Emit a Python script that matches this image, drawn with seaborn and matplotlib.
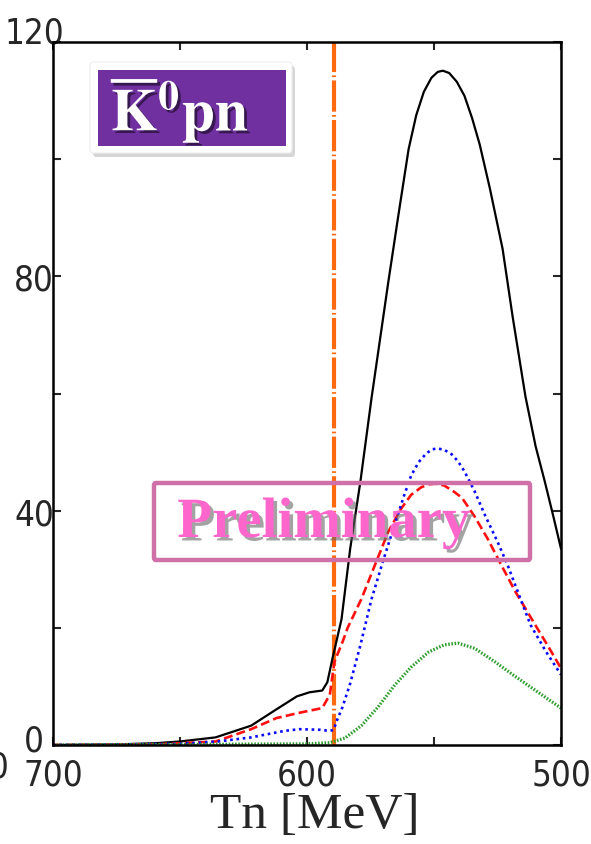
import numpy as np
import pandas as pd
import matplotlib
matplotlib.use("Agg")
import matplotlib.pyplot as plt
import matplotlib.patheffects as pe
from matplotlib.patches import FancyBboxPatch, Rectangle
from matplotlib.transforms import ScaledTranslation
from matplotlib.font_manager import FontProperties
import seaborn as sns

# ---------------- data ----------------
black_x = [700, 675, 660, 650, 636, 622, 612, 604, 599, 594, 592, 590, 586.4, 583, 579,
           574.6, 571, 568, 564, 560, 557, 554, 551, 548.5, 546.5, 544, 541, 538, 535,
           532, 528, 523, 519, 514, 510, 506.4, 503, 500]
black_y = [0, 0.1, 0.3, 0.6, 1.3, 3.3, 6.1, 8.3, 9.0, 9.3, 10.7, 14.7, 21.5, 33.5, 44.9,
           59.2, 70, 79, 90.5, 101.7, 107.5, 111.5, 113.9, 114.9, 115.1, 114.7, 113.2, 110.8, 107,
           102.5, 95, 84.7, 73, 59.5, 51, 45, 39, 33.5]

red_x = [700, 660, 650, 636, 622, 612, 603, 594, 591, 589.2, 586, 584, 578.6, 573, 568, 563,
         559, 555, 552, 549.5, 546, 542, 539, 534, 529, 523, 518, 510, 505, 500]
red_y = [0, 0.1, 0.3, 0.6, 2.7, 4.6, 5.5, 6.3, 8.6, 14.2, 17.6, 20, 24.9, 31, 36.4, 40.3,
         42.7, 44, 44.5, 44.6, 44.3, 43.2, 42.2, 39, 35.3, 30.3, 26.2, 20.4, 16.8, 13.1]

blue_x = [700, 650, 635, 622, 609, 603, 595, 591, 589.5, 588.4, 586, 583, 579, 574.6, 570,
          565.5, 562, 559, 556, 553, 550.5, 548.4, 546, 543, 540.5, 538, 534, 530, 525,
          521, 516, 512, 506, 500]
blue_y = [0, 0.2, 0.6, 1.3, 2.4, 2.7, 2.6, 2.4, 2.6, 4.0, 6.5, 10.5, 17, 24.9, 31.5,
          37.6, 42.3, 46, 48.3, 49.8, 50.5, 50.6, 50.4, 49.6, 48.4, 46.7, 43.3, 39.3, 34.7,
          30.7, 25, 20.5, 16, 12]

green_x = [700, 600, 591, 585, 578.6, 572, 565.5, 559, 552, 546, 540.6, 534, 526, 519, 513, 500]
green_y = [0, 0.2, 0.4, 1.2, 3.3, 6.5, 10.2, 13.3, 15.9, 17.1, 17.4, 16.5, 14.2, 12, 10.2, 6.3]

threshold = 589.5

x_ticks = [700, 650, 600, 550, 500]
x_labels = ["700", "", "600", "", "500"]
y_ticks = [0, 20, 40, 60, 80, 100, 120]
y_labels = ["0", "", "40", "", "80", "", "120"]

xlabel = "Tn [MeV]"
channel = r"$\overline{\mathbf{K}}^{\mathbf{0}}\mathbf{pn}$"
stamp = "Preliminary"

# ---------------- figure ----------------
sns.set_style("ticks")
plt.rcParams["mathtext.fontset"] = "stix"
narrow = FontProperties(family="DejaVu Sans", stretch="condensed", size=25)

W, H = 591, 845
fig = plt.figure(figsize=(W / 100, H / 100), dpi=100)
ax = fig.add_axes([53 / W, 1 - 746 / H, (561 - 53) / W, (746 - 43) / H])

series = [
    (black_x, black_y, dict(color="black", lw=1.6, ls="-")),
    (red_x, red_y, dict(color="#FF1010", lw=1.9, ls=(0, (3.4, 1.6)))),
    (blue_x, blue_y, dict(color="#0A0AFF", lw=1.9, ls=(0, (1.0, 1.4)))),
    (green_x, green_y, dict(color="#2E9E2E", lw=2.3, ls=(0, (0.5, 0.5)))),
]
for xs, ys, st in series:
    df = pd.DataFrame({"T": xs, "v": ys})
    sns.lineplot(data=df, x="T", y="v", ax=ax, sort=False, estimator=None,
                 color=st["color"], linewidth=st["lw"], linestyle=st["ls"])

ax.axvline(threshold, color="#FF6A10", lw=3.0, ls=(0, (7.5, 0.8, 0.4, 0.8)), zorder=1)

ax.set_xlim(700, 500)
ax.set_ylim(0, 120)
ax.set_xticks(x_ticks)
ax.set_xticklabels(x_labels, fontproperties=narrow)
ax.set_yticks(y_ticks)
ax.set_yticklabels(y_labels, fontproperties=narrow)
ax.set_xlabel(xlabel, fontfamily="Liberation Serif", fontsize=37)
ax.xaxis.set_label_coords((315 - 53) / (561 - 53), -(816 - 746) / (746 - 43), transform=ax.transAxes)
ax.xaxis.label.set_va("center")
ax.set_ylabel("")
for s in ax.spines.values():
    s.set_linewidth(1.8)
    s.set_color("black")
    s.set_visible(True)
ax.tick_params(direction="in", length=6, width=1.5, top=True, right=True)
ax.tick_params(axis="x", pad=9)
ax.tick_params(axis="y", pad=13.5)
for lab in ax.get_yticklabels():
    lab.set_horizontalalignment("center")
# vertical nudges seen in the reference ("120" sits above the top, "0" slightly above the base)
nudge = {"120": 13, "0": 8}
for lab in ax.get_yticklabels():
    dy = nudge.get(lab.get_text(), 0)
    if dy:
        lab.set_transform(lab.get_transform() + ScaledTranslation(0, dy / 100, fig.dpi_scale_trans))

# channel label box (figure pixel coords)
def px(x, y):
    return x / W, 1 - y / H

shadow = FancyBboxPatch(px(93, 158), 202 / W, 91 / H, boxstyle="round,pad=0,rounding_size=0.005",
                        transform=fig.transFigure, fc="#bbbbbb", ec="none", alpha=0.6, zorder=5)
frame = FancyBboxPatch(px(90, 154), 202 / W, 91 / H, boxstyle="round,pad=0,rounding_size=0.005",
                       transform=fig.transFigure, fc="white", ec="#eeeeee", lw=0.8, zorder=6)
inner = Rectangle(px(98, 147), 188 / W, 76 / H, transform=fig.transFigure,
                  fc="#7030A0", ec="none", zorder=7)
for p in (shadow, frame, inner):
    fig.add_artist(p)
fig.text(*px(180, 110), channel, color="white", fontsize=43, ha="center", va="center",
         zorder=8, path_effects=[pe.withSimplePatchShadow(offset=(2, -2), shadow_rgbFace="black", alpha=0.5)])

# preliminary stamp
stamp_box = FancyBboxPatch(px(154, 561), 376 / W, 77 / H, boxstyle="round,pad=0,rounding_size=0.003",
                           transform=fig.transFigure, fc="none", ec="#D070A8", lw=3.2, zorder=9)
fig.add_artist(stamp_box)
fig.text(*px(324, 524), stamp, color="#FF66CC", fontsize=41, fontweight="bold",
         fontfamily="Liberation Serif", ha="center", va="center", zorder=10,
         path_effects=[pe.withSimplePatchShadow(offset=(2.5, -2.5), shadow_rgbFace="#666666", alpha=0.6)])

# cut-off label remnant at the left edge
fig.text(*px(9, 768), "500", fontproperties=narrow, ha="right", va="center")

fig.savefig("out.png", dpi=100)
